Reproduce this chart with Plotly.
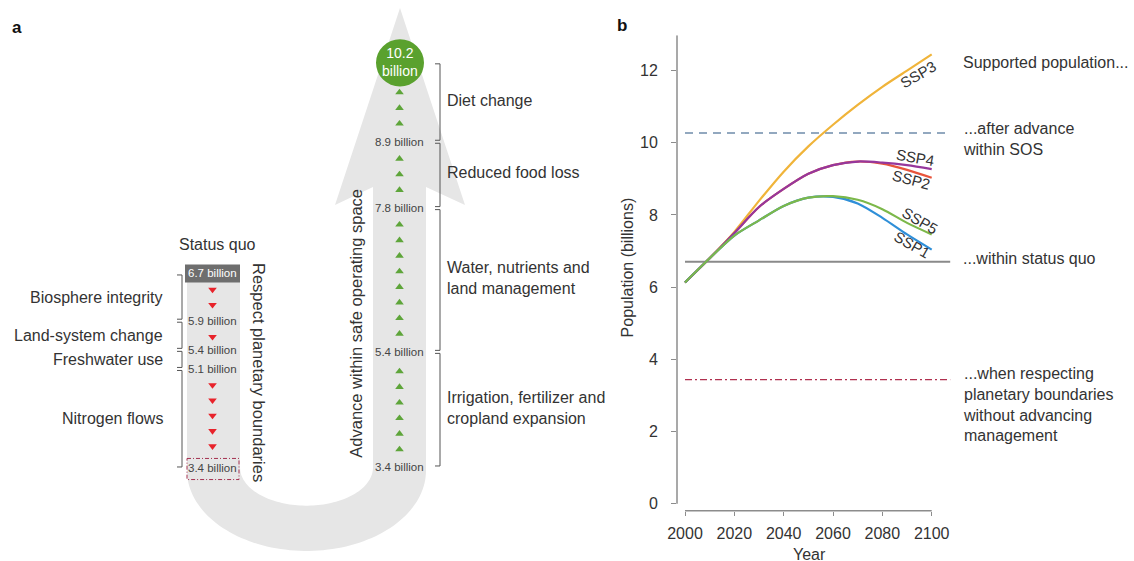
import numpy as np
import plotly.graph_objects as go

# ---------------- data: panel b (population, billions) ----------------
years = [2000, 2010, 2020, 2030, 2040, 2050, 2060, 2070, 2080, 2090, 2100]
ssp1 = [6.13, 6.80, 7.43, 7.85, 8.25, 8.48, 8.50, 8.32, 7.92, 7.46, 7.04]
ssp2 = [6.13, 6.80, 7.50, 8.22, 8.72, 9.14, 9.38, 9.48, 9.42, 9.25, 9.03]
ssp3 = [6.13, 6.80, 7.53, 8.39, 9.20, 9.90, 10.50, 11.05, 11.55, 12.00, 12.45]
ssp4 = [6.13, 6.80, 7.50, 8.22, 8.72, 9.14, 9.38, 9.48, 9.45, 9.38, 9.27]
ssp5 = [6.13, 6.80, 7.43, 7.85, 8.25, 8.48, 8.52, 8.42, 8.16, 7.78, 7.46]
ref_years = [2000, 2107.5]
sos_level = 10.27
status_quo_level = 6.70
pb_level = 3.44
y_ticks = [0, 2, 4, 6, 8, 10, 12]
x_ticks = [2000, 2020, 2040, 2060, 2080, 2100]

# ---------------- data: panel a ----------------
sq_values = [6.7, 5.9, 5.4, 5.1, 3.4]
sq_labels = ["Biosphere integrity", "Land-system change", "Freshwater use", "Nitrogen flows"]
sq_triangles = [2, 1, 0, 5]
sos_values = [10.2, 8.9, 7.8, 5.4, 3.4]
sos_labels = ["Diet change", "Reduced food loss",
              "Water, nutrients and<br>land management",
              "Irrigation, fertilizer and<br>cropland expansion"]
sos_triangles = [3, 3, 8, 6]

# ---------------- layout positions (image pixels) ----------------
W, H = 1134, 566          # canvas size (the photo shows it at ~0.991 scale, shifted 10 px right)
IMG_H = 561
SX0, SXW = 10, 1124
left_y = [272, 319, 348, 367, 466]
right_y = [62, 141, 207, 350, 465]
LX, RX = 212.5, 399.5
FONT = "Liberation Sans, Arial, Helvetica, sans-serif"
TXT = "#333333"
GRAY_BAND = "#e6e6e6"

fig = go.Figure()

# ---------- panel b traces ----------
series = [("SSP3", ssp3, "#f0b43a"), ("SSP2", ssp2, "#e8553c"), ("SSP4", ssp4, "#96379c"),
          ("SSP1", ssp1, "#2f8fd8"), ("SSP5", ssp5, "#7cb84a")]
fig.add_trace(go.Scatter(x=ref_years, y=[status_quo_level]*2, mode="lines",
                         line=dict(color="#8a8a8a", width=2), hoverinfo="skip"))
fig.add_trace(go.Scatter(x=ref_years, y=[sos_level]*2, mode="lines",
                         line=dict(color="#6f8cab", width=1.5, dash="8px,6px"), hoverinfo="skip"))
fig.add_trace(go.Scatter(x=ref_years, y=[pb_level]*2, mode="lines",
                         line=dict(color="#b0304f", width=1.2, dash="7px,3px,2px,3px"), hoverinfo="skip"))
for name, vals, col in series:
    fig.add_trace(go.Scatter(x=years, y=vals, mode="lines", name=name,
                             line=dict(color=col, width=2.2, shape="spline", smoothing=0.8),
                             hoverinfo="skip"))

# ---------- panel a: triangles ----------
tri_lx, tri_ly = [], []
for i, n in enumerate(sq_triangles):
    for k in range(n):
        tri_lx.append(LX)
        tri_ly.append(left_y[i] + 16 + 15.2 * k)
fig.add_trace(go.Scatter(x=tri_lx, y=tri_ly, xaxis="x2", yaxis="y2", mode="markers",
                         marker=dict(symbol="triangle-down", size=7.5, color="#e8232b"),
                         hoverinfo="skip"))
tri_rx, tri_ry = [], []
for i, n in enumerate(sos_triangles):
    below = right_y[i + 1]
    for k in range(n):
        tri_rx.append(RX)
        tri_ry.append(below - 18 - 15.5 * k)
fig.add_trace(go.Scatter(x=tri_rx, y=tri_ry, xaxis="x2", yaxis="y2", mode="markers",
                         marker=dict(symbol="triangle-up", size=7.5, color="#5ea53a"),
                         hoverinfo="skip"))

shapes = []

# ---------- panel a: U-shaped arrow ----------
def ell(cx, cy, rx, ry, t0, t1, n=80):
    t = np.linspace(t0, t1, n)
    return cx + rx * np.cos(t), cy + ry * np.sin(t)

ox, oy = ell(306.5, 468, 119.5, 80, np.pi, 0)
ix, iy = ell(306.5, 465, 66.5, 38, 0, np.pi)
pts = [(187, 270)] + list(zip(ox, oy)) + [(426, 186), (465, 204), (400, 8), (335, 204), (373, 186)] \
      + list(zip(ix, iy)) + [(240, 270)]
path = "M " + " L ".join(f"{x:.1f},{y:.1f}" for x, y in pts) + " Z"
shapes.append(dict(type="path", path=path, xref="x2", yref="y2", fillcolor=GRAY_BAND,
                   line=dict(width=0), layer="below"))

shapes.append(dict(type="rect", xref="x2", yref="y2", x0=185, x1=240, y0=263, y1=281,
                   fillcolor="#6e6e6e", line=dict(width=0)))
shapes.append(dict(type="rect", xref="x2", yref="y2", x0=187, x1=239, y0=456, y1=477,
                   fillcolor="rgba(0,0,0,0)", line=dict(color="#a3304f", width=1, dash="4px,2px,1px,2px")))
shapes.append(dict(type="circle", xref="x2", yref="y2", x0=376, x1=424, y0=39, y1=86,
                   fillcolor="#5aa12e", line=dict(width=0)))

def brackets(xv, ys, tick=5):
    out = []
    for a, b in zip(ys[:-1], ys[1:]):
        a2, b2 = a + 1.5, b - 1.5
        for seg in [((xv, a2), (xv, b2)), ((xv - tick, a2), (xv, a2)), ((xv - tick, b2), (xv, b2))]:
            out.append(dict(type="line", xref="x2", yref="y2", x0=seg[0][0], y0=seg[0][1],
                            x1=seg[1][0], y1=seg[1][1], line=dict(color="#555555", width=1)))
    return out

shapes += brackets(182, left_y)
shapes += brackets(440, right_y)

shapes.append(dict(type="line", xref="x domain", yref="y", x0=0, x1=0, y0=0, y1=12.98,
                   line=dict(color="#8c8c8c", width=1.5)))
shapes.append(dict(type="line", xref="x", yref="y domain", x0=2000, x1=2100, y0=0, y1=0,
                   line=dict(color="#8c8c8c", width=1.5)))

ann = []
def T(x, y, text, size=16, xanchor="center", yanchor="middle", color=TXT, angle=0, bold=False):
    ann.append(dict(x=x, y=y, xref="x2", yref="y2",
                    text=(f"<b>{text}</b>" if bold else text), showarrow=False,
                    xanchor=xanchor, yanchor=yanchor, textangle=angle,
                    align=("left" if xanchor == "left" else ("right" if xanchor == "right" else "center")),
                    font=dict(family=FONT, size=size, color=color)))

T(17, 27, "a", size=17, bold=True, color="#111")
T(622, 25, "b", size=17, bold=True, color="#111")

T(217, 243, "Status quo")
T(LX, 272, f"{sq_values[0]} billion", size=11.5, color="white")
for v, y in zip(sq_values[1:], left_y[1:]):
    T(LX, y, f"{v} billion", size=11.5, color="#444")
for lab, a, b in zip(sq_labels, left_y[:-1], left_y[1:]):
    T(165, (a + b) / 2, lab, xanchor="right")
T(259, 370, "Respect planetary boundaries", size=16.5, angle=90)
T(356, 322, "Advance within safe operating space", size=16.5, angle=-90)
T(400, 62, f"{sos_values[0]}<br>billion", size=14, color="white")
for v, y in zip(sos_values[1:], right_y[1:]):
    T(RX, y, f"{v} billion", size=11.5, color="#444")
for lab, a, b in zip(sos_labels, right_y[:-1], right_y[1:]):
    T(445, (a + b) / 2 - 2, lab, xanchor="left", size=16)

T(627, 266, "Population (billions)", angle=-90)
T(809, 552, "Year")
T(961, 62, "Supported population...", xanchor="left")
T(961, 138, "...after advance<br>within SOS", xanchor="left")
T(961, 257, "...within status quo", xanchor="left")
T(961, 402, "...when respecting<br>planetary boundaries<br>without advancing<br>management", xanchor="left")
T(918, 74, "SSP3", size=15, angle=-30)
T(915, 157, "SSP4", size=15, angle=10)
T(911, 179, "SSP2", size=15, angle=15)
T(920, 219, "SSP5", size=15, angle=30)
T(912, 243, "SSP1", size=15, angle=30)

px_per_year = (931.7 - 685) / 100
px_per_unit = 35.9
x0_dom, x1_dom = 677, 960
y_top, y_bot = 35, 508
fx = lambda p: (p - SX0) / SXW
fy = lambda p: 1 - p / IMG_H
fig.update_layout(
    width=W, height=H, margin=dict(l=0, r=0, t=0, b=0),
    paper_bgcolor="white", plot_bgcolor="rgba(0,0,0,0)", showlegend=False,
    font=dict(family=FONT, color=TXT),
    xaxis=dict(domain=[fx(x0_dom), fx(x1_dom)],
               range=[2000 - (685 - x0_dom) / px_per_year, 2000 + (x1_dom - 685) / px_per_year],
               tickvals=x_ticks, ticks="outside", ticklen=4, tickcolor="#8c8c8c", tickwidth=1,
               showgrid=False, zeroline=False, showline=False,
               tickfont=dict(size=16, color=TXT), ticklabelstandoff=4, anchor="y", fixedrange=True),
    yaxis=dict(domain=[fy(y_bot), fy(y_top)],
               range=[(501 - y_bot) / px_per_unit, (501 - y_top) / px_per_unit],
               tickvals=y_ticks, ticks="outside", ticklen=5, tickcolor="#8c8c8c", tickwidth=1,
               showgrid=False, zeroline=False, showline=False,
               tickfont=dict(size=16, color=TXT), ticklabelstandoff=10, anchor="x", fixedrange=True),
    xaxis2=dict(domain=[0, 1], range=[SX0, SX0 + SXW], visible=False, anchor="y2", fixedrange=True),
    yaxis2=dict(domain=[0, 1], range=[IMG_H, 0], visible=False, anchor="x2", fixedrange=True),
    shapes=shapes, annotations=ann,
)

fig.write_html(
    "out.html",
    config={"displayModeBar": False, "responsive": False},
    post_script=("document.documentElement.style.margin='0';document.body.style.margin='0';"
                 "document.body.style.padding='0';document.body.style.overflow='hidden';"
                 "document.documentElement.style.overflow='hidden';"),
)
